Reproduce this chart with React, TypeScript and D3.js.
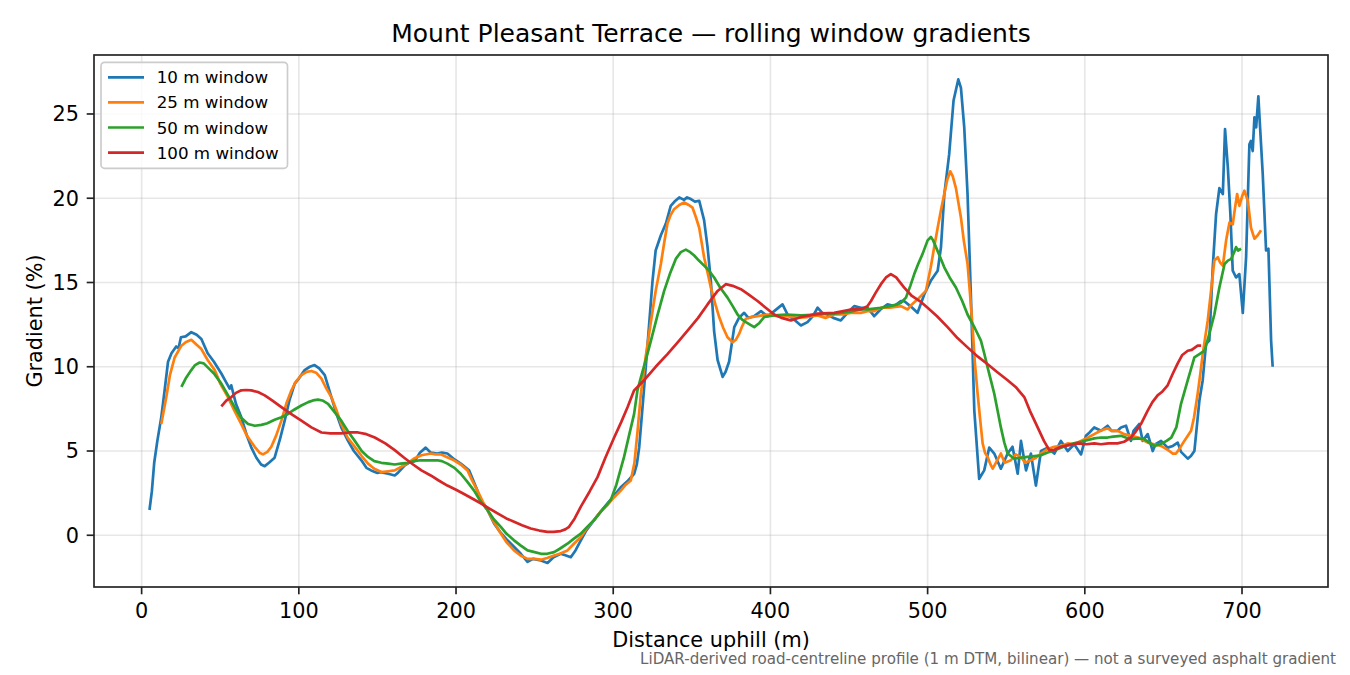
import React from "react";
import * as d3 from "d3";

// Rolling-window gradient profiles, [distance m, gradient %]
const win10: [number, number][] = [
  [5, 1.5], [6.5, 2.6], [8, 4.3], [10, 5.6], [12.5, 7.0], [14.5, 8.5], [16.8, 10.3], [19, 10.8],
  [22, 11.2], [23.5, 11.1], [25, 11.75], [28, 11.8], [31.6, 12.05], [35, 11.9], [38, 11.65], [42, 10.8], [46, 10.3],
  [50.7, 9.6], [53, 9.2], [56, 8.7], [57, 8.9], [60, 7.8], [63.4, 7.0], [67, 5.9], [69.8, 5.2], [73, 4.6],
  [76, 4.2], [78.3, 4.1], [81, 4.3], [84.6, 4.6], [88, 5.7], [91, 6.8], [94, 8.0], [97.4, 9.0],
  [100, 9.3], [103.7, 9.8], [107, 10.0], [110, 10.1], [113, 9.9], [116.5, 9.5], [120.7, 8.2], [124, 7.2],
  [127, 6.4], [131.3, 5.6], [135, 5.0], [139.8, 4.45], [143, 4.0], [146, 3.85], [150, 3.7], [152, 3.75],
  [156.8, 3.65], [161, 3.55], [163, 3.7], [167.4, 4.15], [170, 4.3], [173.7, 4.4], [177, 4.9], [180.7, 5.2],
  [184, 4.9], [188, 4.85], [191, 4.9], [194.5, 4.85], [199, 4.5], [203, 4.25], [208.3, 3.85], [213.6, 2.65],
  [216, 2.0], [220, 1.5], [224.2, 0.7], [228, 0.2], [232.7, -0.3], [237, -0.7], [241.2, -1.1], [245.5, -1.58],
  [249, -1.4], [254, -1.5], [258.2, -1.64], [262, -1.3], [266.6, -1.1], [270, -1.2], [273, -1.3], [276, -0.9],
  [279.4, -0.3], [283, 0.3], [287.8, 0.9], [292, 1.4], [296.4, 1.9], [300, 2.3], [304.8, 2.85], [309, 3.2],
  [313.3, 3.65], [315, 4.2], [316.5, 5.2], [319, 8.0], [322, 11.5], [325, 15.1], [327, 16.9], [330.3, 17.8],
  [333.5, 18.5], [336.6, 19.55], [339, 19.8], [342, 20.05], [345, 19.9], [347, 20.05], [349.4, 19.95], [352, 19.8],
  [354.7, 19.85], [357.8, 18.7], [360, 17.1], [362.1, 15.1], [364.2, 12.1], [366.4, 10.4], [369.6, 9.4], [371.5, 9.7],
  [373.7, 10.3], [377, 12.35], [380, 12.9], [383.3, 13.2], [386, 12.9], [389.7, 13.0], [394, 13.3], [398.2, 13.0],
  [402.4, 13.3], [407.7, 13.7], [410.9, 13.1], [415, 12.8], [419.4, 12.45], [423.6, 12.65], [427, 13.0], [430, 13.5],
  [433, 13.2], [436.4, 13.1], [440, 12.9], [444.8, 12.75], [449, 13.2], [453.3, 13.6], [457.5, 13.5], [461.8, 13.5],
  [466, 13.0], [470, 13.4], [474.5, 13.7], [478.7, 13.6], [483, 13.9], [485, 13.9], [489, 13.6], [493.6, 13.2],
  [497.9, 14.3], [502, 15.1], [506.4, 15.7], [508.5, 17.1], [510.6, 20.2], [513.7, 22.6], [516.5, 25.8], [519.5, 27.05],
  [521.2, 26.55], [523.3, 24.2], [525.4, 20.25], [527.5, 14.3], [529.7, 7.4], [532.8, 3.35], [536, 3.85], [539.2, 5.2],
  [542.4, 4.85], [546.6, 3.95], [550.9, 4.85], [554, 5.25], [557.3, 3.65], [559.4, 5.6], [562.6, 3.85], [565.7, 4.85],
  [568.9, 2.95], [572.1, 5.0], [576.4, 5.2], [580.6, 4.85], [584.8, 5.6], [589.1, 5.0], [593.3, 5.4], [597.6, 4.8],
  [600.7, 5.9], [603, 6.1], [606, 6.4], [610.3, 6.2], [614.5, 6.5], [617, 6.2], [620.8, 6.2], [623, 6.4],
  [626.2, 6.5], [629.3, 5.6], [631, 6.2], [634.6, 6.6], [636.8, 5.6], [640, 6.0], [643.2, 5.0], [645, 5.4],
  [648.5, 5.6], [652.7, 5.2], [656, 5.3], [659.1, 5.5], [661.2, 4.95], [665.5, 4.55], [667.5, 4.7], [669.7, 5.0],
  [672.9, 8.0], [675, 9.2], [677.1, 11.35], [679.2, 11.55], [681.4, 15.9], [683.5, 19.05], [685.6, 20.6], [687.8, 20.25],
  [689.2, 24.1], [691, 21.8], [692.6, 19.05], [694.1, 15.7], [696.2, 15.3], [698.3, 15.5], [700.5, 13.2], [702.6, 16.5],
  [704.7, 23.2], [705.7, 23.4], [706.8, 22.8], [707.9, 24.8], [709, 24.2], [710.4, 26.05], [711.5, 24.2], [713.2, 21.4],
  [715.3, 16.9], [716.8, 17.0], [718.5, 11.55], [719.5, 10.0],
];

const win25: [number, number][] = [
  [12.5, 6.6], [15.7, 8.2], [18, 9.5], [21, 10.55], [25.3, 11.25], [28, 11.45], [31.6, 11.6], [35, 11.3],
  [38, 11.05], [42, 10.4], [46.5, 9.8], [50, 9.0], [54.9, 8.2], [59, 7.4], [63.4, 6.6], [67, 5.9],
  [71.9, 5.25], [75, 4.9], [77.2, 4.8], [80, 4.95], [82.5, 5.25], [85.5, 5.9], [88.9, 6.8], [92, 7.8],
  [95.3, 8.6], [98, 9.1], [101.6, 9.5], [105, 9.7], [108, 9.75], [111, 9.65], [114.4, 9.3], [117, 8.8],
  [120.7, 8.2], [124, 7.4], [127, 6.6], [131, 5.8], [135.6, 5.25], [140, 4.7], [144, 4.25], [148, 3.95],
  [152.5, 3.75], [157, 3.8], [161, 3.85], [165, 4.05], [169.5, 4.3], [173.3, 4.55], [178, 4.75], [183.9, 4.85],
  [187, 4.8], [190.3, 4.8], [194, 4.65], [198.7, 4.45], [203, 4.2], [207.3, 3.85], [210, 3.3], [213.6, 2.65],
  [217, 2.0], [220, 1.5], [224, 0.8], [228.5, 0.1], [232, -0.4], [236.9, -0.9], [241, -1.2], [245.5, -1.4],
  [250, -1.4], [254, -1.45], [258, -1.35], [262.4, -1.2], [266, -1.1], [270.9, -0.9], [275, -0.5], [279.4, -0.1],
  [283, 0.4], [287.8, 0.9], [292, 1.4], [296.4, 1.8], [300, 2.2], [304.8, 2.65], [308, 3.0], [311.2, 3.25],
  [313.5, 4.3], [315.5, 6.2], [317.6, 8.4], [320.5, 10.5], [324, 12.7], [327, 14.5], [330.3, 16.1], [332.5, 17.4],
  [334.5, 18.5], [336.5, 19.0], [338.7, 19.35], [342, 19.6], [345.1, 19.75], [348, 19.6], [350.4, 19.45], [352.5, 18.9],
  [354.7, 18.25], [357.8, 16.5], [360, 15.6], [362.1, 14.7], [365, 13.7], [367.4, 12.95], [370, 12.3], [372.7, 11.75],
  [375.9, 11.45], [378, 11.6], [380.1, 11.95], [382, 12.4], [384.4, 12.85], [388, 12.95], [391.8, 13.0], [398.2, 13.1],
  [404, 13.0], [410.9, 13.0], [417, 12.9], [423.6, 12.95], [430, 13.05], [435, 12.9], [440.6, 13.1], [446, 13.1],
  [451, 13.2], [457.5, 13.2], [461.8, 13.3], [466, 13.3], [470.3, 13.5], [476, 13.5], [483, 13.6], [487.3, 13.4],
  [490, 13.7], [493.6, 14.0], [498.9, 14.5], [502, 15.9], [504, 17.0], [506.4, 18.25], [508.5, 19.3], [510.6, 20.25],
  [512.5, 21.1], [514.4, 21.6], [516, 21.3], [518, 20.6], [521.2, 18.85], [523, 17.5], [525.4, 16.1], [527, 14.3],
  [528.6, 12.35], [530, 10.3], [531.8, 8.4], [533.5, 6.8], [535, 5.45], [536.5, 4.9], [538.2, 4.65], [540, 4.2],
  [541.4, 3.95], [544, 4.4], [546.6, 4.85], [549, 4.3], [553, 4.45], [556, 4.8], [559.4, 4.65], [562, 4.3],
  [565.7, 4.45], [569, 4.6], [572.1, 4.85], [576, 5.1], [580.6, 5.25], [585, 5.3], [589.1, 5.45], [593, 5.4],
  [597.6, 5.6], [602, 5.8], [606, 6.0], [610, 6.2], [614.5, 6.35], [617, 6.2], [620.8, 6.2], [625, 6.0],
  [629.3, 5.9], [634, 5.8], [640, 5.5], [644, 5.4], [648.5, 5.3], [653, 5.05], [656, 4.85], [658, 4.85],
  [660, 5.1], [663.3, 5.6], [667.6, 6.2], [669.5, 7.0], [671.8, 8.4], [673.5, 9.6], [675, 10.75], [678.2, 12.75],
  [680.3, 14.5], [682.4, 16.3], [684.6, 16.5], [686, 16.2], [687.8, 16.0], [689.9, 17.5], [692, 18.55], [694.1, 18.45],
  [695.5, 19.4], [696.9, 20.25], [698.3, 19.55], [700, 20.1], [701.5, 20.45], [703.7, 19.85], [705.7, 18.25], [707.9, 17.6],
  [710, 17.8], [712.1, 18.1],
];

const win50: [number, number][] = [
  [25.3, 8.8], [28, 9.3], [31.6, 9.8], [34, 10.1], [36.9, 10.25], [39.5, 10.2], [42.2, 9.95], [46, 9.6],
  [50.7, 9.0], [55, 8.3], [59.2, 7.6], [63, 7.0], [67.7, 6.6], [72, 6.5], [76.2, 6.55], [80, 6.65],
  [84.6, 6.85], [89, 7.0], [93.1, 7.2], [97, 7.45], [101.6, 7.7], [106, 7.9], [109, 8.0], [112.2, 8.05],
  [115, 8.0], [118.6, 7.8], [122, 7.4], [127, 6.8], [131, 6.2], [135.6, 5.6], [140, 5.0], [144, 4.65],
  [148, 4.4], [152.5, 4.3], [157, 4.25], [161, 4.2], [164.8, 4.25], [169.5, 4.3], [173, 4.4], [177.5, 4.45],
  [183, 4.45], [188.2, 4.45], [191, 4.4], [194.5, 4.25], [199, 4.0], [203, 3.65], [207, 3.2], [211.5, 2.65],
  [215, 2.1], [220, 1.5], [224, 0.95], [228.5, 0.5], [232, 0.1], [236.9, -0.3], [241, -0.6], [245.5, -0.9],
  [250, -1.0], [254, -1.1], [258, -1.1], [262.4, -1.0], [266, -0.8], [270.9, -0.5], [275, -0.2], [279.4, 0.1],
  [283, 0.45], [287.8, 0.9], [293, 1.5], [298.5, 2.1], [302, 3.0], [306.9, 4.65], [310, 5.9], [313.3, 7.2],
  [315.4, 8.6], [318, 9.5], [321, 10.5], [324, 11.55], [328, 13.0], [332.4, 14.5], [336, 15.5], [339.8, 16.4],
  [343, 16.8], [346.2, 16.95], [349, 16.8], [351.5, 16.6], [354.5, 16.3], [357.8, 16.0], [361, 15.7], [364.2, 15.3],
  [368, 14.7], [372.7, 14.1], [376, 13.6], [379.1, 13.1], [382, 12.8], [384.4, 12.65], [387, 12.5], [389.7, 12.35],
  [393, 12.6], [396, 12.95], [402.4, 13.05], [410, 13.1], [419.4, 13.05], [430, 13.1], [440.6, 13.15], [450, 13.25],
  [457.5, 13.4], [461.8, 13.4], [466, 13.45], [470.3, 13.5], [476, 13.6], [480.9, 13.7], [483, 13.8], [486.2, 14.1],
  [489, 14.8], [491.5, 15.5], [494, 16.1], [496.8, 16.7], [500, 17.5], [502.1, 17.7], [503.5, 17.5], [505.3, 17.1],
  [508, 16.5], [510.6, 15.9], [514, 15.3], [518, 14.7], [522, 13.9], [525.4, 13.1], [530, 12.3], [533.9, 11.55],
  [536, 10.8], [538.2, 9.95], [540.5, 9.1], [542.4, 8.4], [544.5, 7.4], [546.6, 6.4], [548.8, 5.5], [550.9, 4.85],
  [555.1, 4.55], [559, 4.6], [563.6, 4.65], [568, 4.7], [572.1, 4.75], [576, 4.9], [580.6, 5.05], [585, 5.2],
  [589.1, 5.35], [593, 5.45], [597.6, 5.55], [602, 5.65], [606, 5.75], [610.3, 5.8], [614.5, 5.8], [618, 5.85],
  [623, 5.9], [626, 5.8], [629.3, 5.7], [634, 5.75], [637.8, 5.7], [641, 5.5], [644.2, 5.3], [648, 5.4],
  [652, 5.6], [655, 5.8], [658.2, 6.4], [661.2, 7.8], [665.5, 9.2], [669.7, 10.55], [672.9, 10.75], [676.2, 10.95],
  [679.2, 11.95], [682.4, 13.1], [685.6, 14.7], [688.9, 16.1], [691, 16.3], [693.1, 16.4], [695, 16.8], [696.2, 17.1],
  [697.5, 16.9], [699.4, 17.0],
];

const win100: [number, number][] = [
  [50.7, 7.65], [54, 8.0], [57.1, 8.2], [60, 8.45], [63.4, 8.6], [66.5, 8.62], [69.8, 8.6], [74, 8.5],
  [78.3, 8.3], [83, 8.0], [88.9, 7.6], [95, 7.2], [101.6, 6.8], [108, 6.4], [114.4, 6.1], [120, 6.05],
  [127, 6.05], [132, 6.1], [137.7, 6.1], [143, 6.0], [148.3, 5.8], [155, 5.45], [161, 5.05], [167, 4.6],
  [172.7, 4.2], [178, 3.85], [183.9, 3.55], [189, 3.25], [194.5, 2.95], [200, 2.7], [205.1, 2.45], [210, 2.2],
  [215.7, 1.9], [221, 1.6], [226.4, 1.3], [232, 1.0], [236.9, 0.8], [242, 0.6], [247.5, 0.4], [253, 0.28],
  [258.2, 0.2], [262, 0.2], [266.6, 0.25], [269.5, 0.35], [271.9, 0.5], [275.5, 1.0], [279.4, 1.7], [285, 2.6],
  [290, 3.45], [295, 4.6], [300.6, 5.8], [305, 6.7], [309.1, 7.6], [311.2, 8.1], [313.3, 8.6], [316.5, 8.9],
  [319.7, 9.2], [327, 10.0], [334.5, 10.75], [341, 11.45], [347.3, 12.15], [354, 12.9], [360, 13.7], [366.4, 14.5],
  [371.6, 14.9], [376, 14.8], [381.2, 14.6], [386, 14.3], [391.8, 13.9], [397, 13.5], [402.4, 13.1], [407, 12.9],
  [413, 12.75], [419.4, 12.95], [425, 13.05], [430, 13.15], [440.6, 13.2], [451.2, 13.4], [457.5, 13.4], [461.8, 13.6],
  [464, 13.9], [467, 14.4], [470.3, 14.9], [473.5, 15.3], [476.6, 15.5], [480, 15.3], [485.1, 14.7], [490, 14.2],
  [495, 13.9], [500, 13.5], [506, 13.0], [512.7, 12.35], [519, 11.7], [525.4, 11.15], [532, 10.6], [538.2, 10.15],
  [544, 9.7], [550.9, 9.2], [556, 8.8], [561.5, 8.2], [565, 7.4], [570, 6.4], [574, 5.6], [577.4, 5.05],
  [580, 5.05], [584.8, 5.25], [590, 5.35], [595.5, 5.45], [601, 5.4], [606, 5.45], [610.3, 5.4], [615, 5.45],
  [620.8, 5.45], [625, 5.55], [629.3, 5.8], [632, 6.1], [635.7, 6.6], [640, 7.4], [643, 7.9], [646.3, 8.3],
  [649, 8.5], [652.7, 8.9], [656, 9.6], [659.1, 10.2], [662, 10.7], [665.5, 10.95], [668, 11.0], [671.8, 11.25],
  [674, 11.25],
];

const seriesLabels = ["10 m window", "25 m window", "50 m window", "100 m window"];
const seriesColors = ["#1f77b4", "#ff7f0e", "#2ca02c", "#d62728"];
const xTicks = [0, 100, 200, 300, 400, 500, 600, 700];
const yTicks = [0, 5, 10, 15, 20, 25];

const W = 1350;
const H = 675;
const plot = { left: 94, right: 1328, top: 55, bottom: 587 };
const font = "'DejaVu Sans', sans-serif";

export default function App() {
  const allSeries = [win10, win25, win50, win100];

  const x = d3.scaleLinear().domain([-30.3, 754.7]).range([plot.left, plot.right]);
  const y = d3.scaleLinear().domain([-3.07, 28.5]).range([plot.bottom, plot.top]);

  const line = d3
    .line<[number, number]>()
    .x((d) => x(d[0]))
    .y((d) => y(d[1]));

  return (
    <svg
      width={W}
      height={H}
      style={{ position: "absolute", left: 0, top: 0, background: "#fff" }}
      fontFamily={font}
    >
      <rect x={0} y={0} width={W} height={H} fill="#fff" />

      {/* grid */}
      {xTicks.map((t) => (
        <line key={"gx" + t} x1={x(t)} x2={x(t)} y1={plot.top} y2={plot.bottom} stroke="#b0b0b0" strokeOpacity={0.3} strokeWidth={1.67} />
      ))}
      {yTicks.map((t) => (
        <line key={"gy" + t} x1={plot.left} x2={plot.right} y1={y(t)} y2={y(t)} stroke="#b0b0b0" strokeOpacity={0.3} strokeWidth={1.67} />
      ))}

      {/* series */}
      <defs>
        <clipPath id="plotClip">
          <rect x={plot.left} y={plot.top} width={plot.right - plot.left} height={plot.bottom - plot.top} />
        </clipPath>
      </defs>
      <g clipPath="url(#plotClip)">
        {allSeries.map((s, i) => (
          <path
            key={seriesLabels[i]}
            d={line(s) || ""}
            fill="none"
            stroke={seriesColors[i]}
            strokeWidth={2.7}
            strokeLinejoin="round"
            strokeLinecap="butt"
          />
        ))}
      </g>

      {/* frame */}
      <rect
        x={plot.left}
        y={plot.top}
        width={plot.right - plot.left}
        height={plot.bottom - plot.top}
        fill="none"
        stroke="#222"
        strokeWidth={1.67}
      />

      {/* x axis */}
      {xTicks.map((t) => (
        <g key={"xt" + t}>
          <line x1={x(t)} x2={x(t)} y1={plot.bottom} y2={plot.bottom + 7.3} stroke="#222" strokeWidth={1.67} />
          <text x={x(t)} y={617.5} textAnchor="middle" fontSize={20.8} fill="#000">
            {t}
          </text>
        </g>
      ))}
      {/* y axis */}
      {yTicks.map((t) => (
        <g key={"yt" + t}>
          <line x1={plot.left - 7.3} x2={plot.left} y1={y(t)} y2={y(t)} stroke="#222" strokeWidth={1.67} />
          <text x={plot.left - 15} y={y(t)} dy="0.36em" textAnchor="end" fontSize={20.8} fill="#000">
            {t}
          </text>
        </g>
      ))}

      <text x={(plot.left + plot.right) / 2} y={646.5} textAnchor="middle" fontSize={20.8} fill="#000">
        Distance uphill (m)
      </text>
      <text
        transform={`translate(42, ${(plot.top + plot.bottom) / 2}) rotate(-90)`}
        textAnchor="middle"
        fontSize={20.8}
        fill="#000"
      >
        Gradient (%)
      </text>
      <text x={(plot.left + plot.right) / 2} y={41.7} textAnchor="middle" fontSize={25} fill="#000">
        Mount Pleasant Terrace — rolling window gradients
      </text>
      <text x={1336} y={664} textAnchor="end" fontSize={15.1} fill="#666">
        LiDAR-derived road-centreline profile (1 m DTM, bilinear) — not a surveyed asphalt gradient
      </text>

      {/* legend */}
      <rect x={101} y={62.3} width={186.5} height={106} rx={3.5} fill="#fff" fillOpacity={0.8} stroke="#cccccc" strokeWidth={1.67} />
      {seriesLabels.map((lbl, i) => {
        const ly = 77.3 + i * 25.1;
        return (
          <g key={"lg" + lbl}>
            <line x1={108} x2={144} y1={ly} y2={ly} stroke={seriesColors[i]} strokeWidth={2.7} />
            <text x={156.7} y={ly} dy="0.36em" fontSize={16.7} fill="#000">
              {lbl}
            </text>
          </g>
        );
      })}
    </svg>
  );
}
